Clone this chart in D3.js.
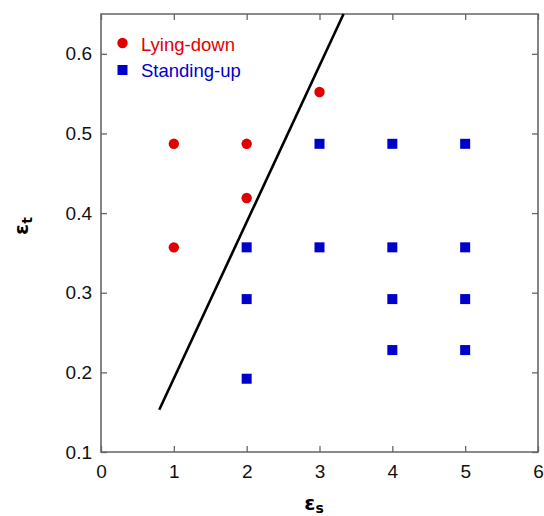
<!DOCTYPE html>
<html><head><meta charset="utf-8">
<script src="https://cdn.jsdelivr.net/npm/d3@7"></script>
<style>body{margin:0;background:#fff;} svg{display:block;font-family:"Liberation Sans",Arial,Helvetica,sans-serif;}</style>
</head><body>
<script>
const lyingX = [1, 2, 2, 1, 3];
const lyingY = [0.487, 0.487, 0.419, 0.357, 0.552];
const standX = [3, 4, 5, 2, 3, 4, 5, 2, 4, 5, 4, 5, 2];
const standY = [0.487, 0.487, 0.487, 0.357, 0.357, 0.357, 0.357, 0.292, 0.292, 0.292, 0.228, 0.228, 0.192];
const lineX = [0.8, 3.33];
const lineY = [0.153, 0.65];
const xTicks = [0, 1, 2, 3, 4, 5, 6];
const yTicks = [0.1, 0.2, 0.3, 0.4, 0.5, 0.6];
const seriesNames = ["Lying-down", "Standing-up"];

const W = 544, H = 516;
const L = 101, R = 538, T = 14, B = 452;
const red = "#e00000", blue = "#0000cc", axisCol = "#666";

const svg = d3.select("body").append("svg").attr("width", W).attr("height", H);
const x = d3.scaleLinear().domain([0, 6]).range([L, R]);
const y = d3.scaleLinear().domain([0.1, 0.65]).range([B, T]);

function styleAxis(g, showText) {
  g.select(".domain").remove();
  g.selectAll(".tick line").attr("stroke", axisCol).attr("stroke-width", 1.3);
  g.selectAll(".tick text").attr("fill", "#111").style("font-size", "19px")
    .style("font-family", "'Liberation Sans', Arial, sans-serif");
  if (!showText) g.selectAll(".tick text").remove();
}
// bottom
svg.append("g").attr("transform", `translate(0,${B})`)
  .call(d3.axisBottom(x).tickValues(xTicks).tickSize(-6).tickPadding(13).tickFormat(d3.format("d")))
  .call(g => styleAxis(g, true));
// top
svg.append("g").attr("transform", `translate(0,${T})`)
  .call(d3.axisTop(x).tickValues(xTicks).tickSize(-6))
  .call(g => styleAxis(g, false));
// left
svg.append("g").attr("transform", `translate(${L},0)`)
  .call(d3.axisLeft(y).tickValues(yTicks).tickSize(-6).tickPadding(9).tickFormat(d3.format(".1f")))
  .call(g => styleAxis(g, true));
// right
svg.append("g").attr("transform", `translate(${R},0)`)
  .call(d3.axisRight(y).tickValues(yTicks).tickSize(-6))
  .call(g => styleAxis(g, false));

// frame
svg.append("path")
  .attr("d", `M${L},${T}V${B}H${R}V${T}H${L}Z`)
  .attr("fill", "none").attr("stroke", axisCol).attr("stroke-width", 1.6);

// line
const lineData = lineX.map((v, i) => [v, lineY[i]]);
svg.append("path")
  .attr("d", d3.line().x(d => x(d[0])).y(d => y(d[1]))(lineData))
  .attr("fill", "none").attr("stroke", "#000").attr("stroke-width", 2.6);

// points
const lying = lyingX.map((v, i) => ({x: v, y: lyingY[i]}));
const stand = standX.map((v, i) => ({x: v, y: standY[i]}));
svg.append("g").selectAll("circle").data(lying).join("circle")
  .attr("cx", d => x(d.x)).attr("cy", d => y(d.y)).attr("r", 5.2).attr("fill", red);
const s = 10;
svg.append("g").selectAll("rect").data(stand).join("rect")
  .attr("x", d => x(d.x) - s / 2).attr("y", d => y(d.y) - s / 2)
  .attr("width", s).attr("height", s).attr("fill", blue);

// legend
const leg = svg.append("g");
leg.append("circle").attr("cx", 122.5).attr("cy", 43).attr("r", 5.2).attr("fill", red);
leg.append("rect").attr("x", 117.5).attr("y", 65).attr("width", s).attr("height", s).attr("fill", blue);
leg.append("text").attr("x", 141).attr("y", 50.5).attr("fill", red).style("font-size", "18.5px").text(seriesNames[0]);
leg.append("text").attr("x", 141).attr("y", 76.5).attr("fill", blue).style("font-size", "18.5px").text(seriesNames[1]);

// axis labels
const xl = svg.append("text").attr("x", 314).attr("y", 510).attr("text-anchor", "middle")
  .style("font-family", "'DejaVu Sans', sans-serif").style("font-weight", "bold").style("font-size", "20px").attr("fill", "#000");
xl.append("tspan").text("ε");
xl.append("tspan").attr("dy", 3).style("font-size", "14px").text("s");

const yl = svg.append("text").attr("transform", "translate(28,226) rotate(-90)").attr("text-anchor", "middle")
  .style("font-family", "'DejaVu Sans', sans-serif").style("font-weight", "bold").style("font-size", "20px").attr("fill", "#000");
yl.append("tspan").text("ε");
yl.append("tspan").attr("dy", 4).style("font-size", "14px").text("t");
</script>
</body></html>
